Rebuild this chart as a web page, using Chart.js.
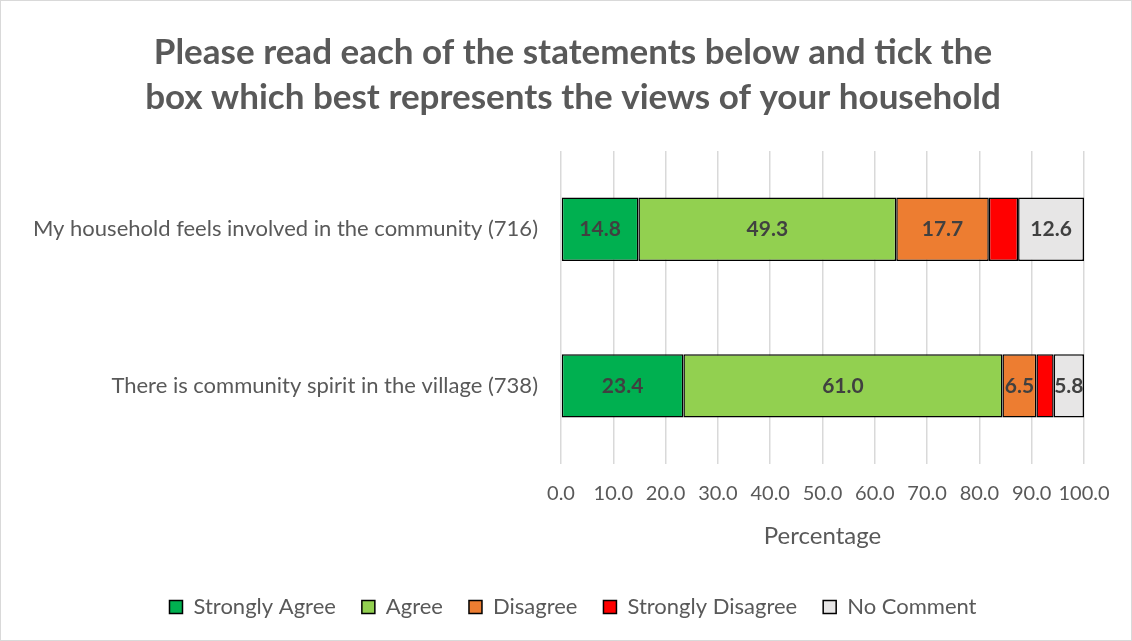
<!DOCTYPE html>
<html>
<head>
<meta charset="utf-8">
<title>Community survey</title>
<script src="https://cdn.jsdelivr.net/npm/chart.js@4"></script>
<style>
  body { margin: 0; background: #fff; }
</style>
</head>
<body>
<canvas id="myChart" width="1132" height="641"></canvas>
<script>
const preguntas = [
  "My household feels involved in the community (716)",
  "There is community spirit in the village (738)"
];
const respuestas = ["Strongly Agree", "Agree", "Disagree", "Strongly Disagree", "No Comment"];
const muyDeAcuerdo = [14.8, 23.4];
const deAcuerdo = [49.3, 61.0];
const enDesacuerdo = [17.7, 6.5];
const muyEnDesacuerdo = [5.6, 3.3];
const sinComentario = [12.6, 5.8];
const colores = ["#00b050", "#92d050", "#ed7d31", "#ff0000", "#e7e6e6"];
const ticksX = [0, 10, 20, 30, 40, 50, 60, 70, 80, 90, 100];

const series = [muyDeAcuerdo, deAcuerdo, enDesacuerdo, muyEnDesacuerdo, sinComentario];
const gris = "#595959";
const fuente = "Lato, 'Open Sans', sans-serif";

// fondo blanco y borde del grafico
const fondo = {
  id: "fondo",
  beforeDraw(chart) {
    const c = chart.ctx;
    c.save();
    c.fillStyle = "#fff";
    c.fillRect(0, 0, chart.width, chart.height);
    c.strokeStyle = "#d9d9d9";
    c.lineWidth = 1;
    c.strokeRect(0.5, 0.5, chart.width - 1, chart.height - 1);
    c.restore();
  }
};

// centrar titulo y leyenda un poco mas a la derecha, como en el original
const centrar = {
  id: "centrar",
  afterLayout(chart) {
    if (chart.titleBlock) chart.titleBlock.left = 62;
    if (chart.legend) chart.legend.left = 62;
  }
};

// etiquetas dentro de las barras (sin la serie "Strongly Disagree")
const etiquetas = {
  id: "etiquetas",
  afterDatasetsDraw(chart) {
    const c = chart.ctx;
    c.save();
    c.font = "bold 21px " + fuente;
    c.fillStyle = "#404040";
    c.textAlign = "center";
    c.textBaseline = "middle";
    chart.data.datasets.forEach((ds, i) => {
      if (ds.label === "Strongly Disagree") return;
      chart.getDatasetMeta(i).data.forEach((bar, j) => {
        const x = (bar.x + bar.base) / 2;
        c.fillText(ds.data[j].toFixed(1), x, bar.y);
      });
    });
    c.restore();
  }
};

const ctx = document.getElementById("myChart").getContext("2d");
const myChart = new Chart(ctx, {
  type: "bar",
  data: {
    labels: preguntas,
    datasets: respuestas.map((r, i) => ({
      label: r,
      data: series[i],
      backgroundColor: colores[i],
      borderColor: "#000",
      borderWidth: 1.5,
      borderSkipped: false,
      barPercentage: 1,
      categoryPercentage: 0.405
    }))
  },
  options: {
    indexAxis: "y",
    responsive: false,
    animation: false,
    layout: { padding: { left: 0, right: 48, top: 0, bottom: 13 } },
    scales: {
      x: {
        stacked: true,
        min: 0,
        max: 100,
        afterBuildTicks(scale) {
          scale.ticks = ticksX.map(v => ({ value: v }));
        },
        ticks: {
          color: gris,
          font: { family: fuente, size: 20 },
          padding: 17,
          autoSkip: false,
          maxRotation: 0,
          callback: v => v.toFixed(1)
        },
        grid: { color: "#d9d9d9", lineWidth: 1.5, drawTicks: false },
        border: { display: false },
        title: {
          display: true,
          text: "Percentage",
          color: gris,
          font: { family: fuente, size: 24 },
          padding: { top: 0, bottom: 19 }
        }
      },
      y: {
        stacked: true,
        afterFit(scale) { scale.width = 561; },
        ticks: {
          color: gris,
          font: { family: fuente, size: 22 },
          padding: 15
        },
        grid: { display: false },
        border: { display: false }
      }
    },
    plugins: {
      title: {
        display: true,
        text: [
          "Please read each of the statements below and tick the",
          "box which best represents the views of your household"
        ],
        color: gris,
        font: { family: fuente, size: 35, weight: "bold", lineHeight: "45px" },
        padding: { top: 30, bottom: 31 }
      },
      legend: {
        position: "bottom",
        labels: {
          color: gris,
          font: { family: fuente, size: 22 },
          boxWidth: 13,
          boxHeight: 13,
          padding: 26
        }
      },
      tooltip: { enabled: false }
    }
  },
  plugins: [fondo, centrar, etiquetas]
});
</script>
</body>
</html>
